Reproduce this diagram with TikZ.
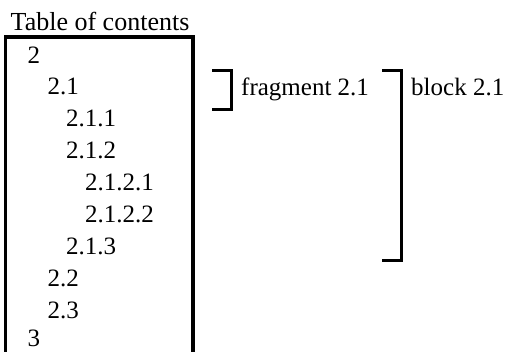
\documentclass[tikz,border=0pt]{standalone}
\usepackage{fontspec}
\setmainfont{Liberation Serif}
\begin{document}
\begin{tikzpicture}[x=1pt,y=-1pt,
  entry/.style={anchor=base west, inner sep=0pt, font=\fontsize{25}{30}\selectfont},
  titletext/.style={anchor=base west, inner sep=0pt, font=\fontsize{26}{31}\selectfont},
  frameline/.style={line width=3.5pt},
  bracketline/.style={line width=3.5pt}]
\useasboundingbox (0,0) rectangle (505,351);
\clip (0,0) rectangle (505,351);
\fill[white] (0,0) rectangle (505,351);
\node[titletext] (title) at (10.5,30) {Table of contents};
\coordinate (fbl) at (5.3,365);
\coordinate (ftl) at (5.3,37);
\coordinate (ftr) at (193,37);
\coordinate (fbr) at (193,365);
\draw[frameline] (fbl) -- (ftl) -- (ftr) -- (fbr);
\node[entry] (e1) at (27.5,63) {2};
\node[entry] (e2) at (47.5,94.9) {2.1};
\node[entry] (e3) at (66,126.8) {2.1.1};
\node[entry] (e4) at (66,158.7) {2.1.2};
\node[entry] (e5) at (85,190.6) {2.1.2.1};
\node[entry] (e6) at (85,222.5) {2.1.2.2};
\node[entry] (e7) at (66,254.4) {2.1.3};
\node[entry] (e8) at (47.5,286.3) {2.2};
\node[entry] (e9) at (47.5,318.2) {2.3};
\node[entry] (e10) at (27.5,346.5) {3};
% fragment bracket
\coordinate (fa) at (212.3,70.3);
\coordinate (fb) at (231.7,70.3);
\coordinate (fc) at (231.7,109.5);
\coordinate (fd) at (212.3,109.5);
\draw[bracketline] (fa) -- (fb) -- (fc) -- (fd);
\node[entry] (flabel) at (241,95) {fragment 2.1};
% block bracket
\coordinate (ba) at (382,70.3);
\coordinate (bb) at (401.7,70.3);
\coordinate (bc) at (401.7,260.7);
\coordinate (bd) at (382,260.7);
\draw[bracketline] (ba) -- (bb) -- (bc) -- (bd);
\node[entry] (blabel) at (411,95) {block 2.1};
\end{tikzpicture}
\end{document}
